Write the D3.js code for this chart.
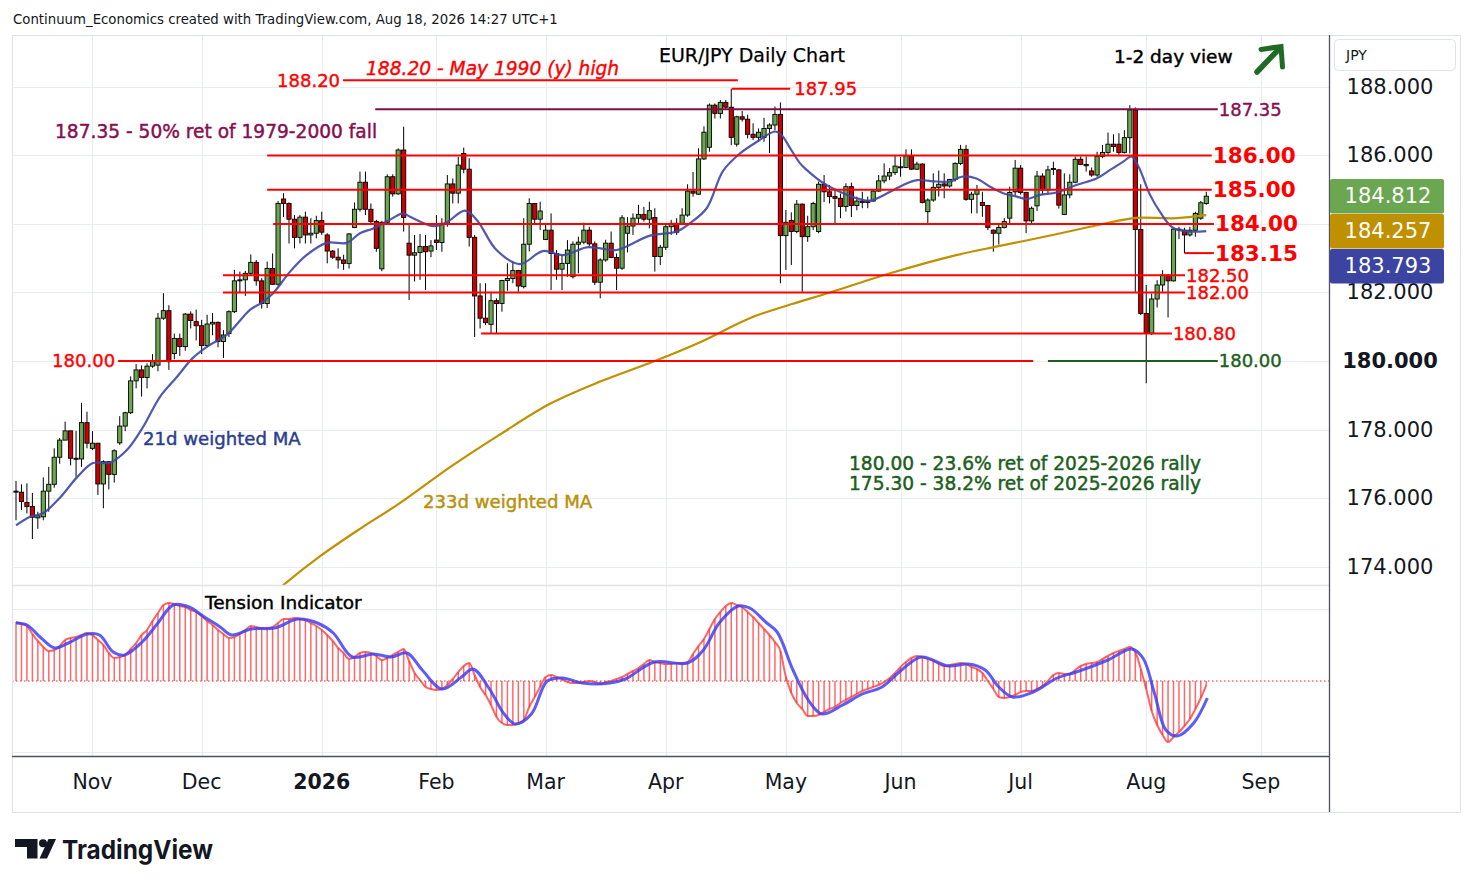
<!DOCTYPE html>
<html>
<head>
<meta charset="utf-8">
<script src="https://cdn.jsdelivr.net/npm/d3@7"></script>
<style>
  body { margin: 0; background: #fff; }
  text { font-family: "DejaVu Sans", sans-serif; }
</style>
</head>
<body>
<svg id="chart" width="1474" height="887"></svg>
<script>
// daily EUR/JPY candles, [open, high, low, close], from Oct 14 2025 to Aug 18 2026
const candles = [
  [176.18,176.5,175.35,176.2],[176.17,176.4,175.65,175.9],[175.87,176.43,175.55,175.75],[175.75,176.15,174.8,175.44],[175.42,175.6,175.1,175.48],
  [175.45,176.6,175.35,176.2],[176.2,176.91,175.6,176.4],[176.4,177.45,176.3,177.19],[177.19,177.75,177.0,177.69],[177.69,178.23,177.69,177.96],
  [177.96,177.96,176.95,177.16],[177.16,177.96,176.62,177.14],[177.14,178.78,176.91,178.2],[178.2,178.52,177.45,177.6],[177.45,177.95,177.4,177.6],
  [177.6,177.6,176.09,176.41],[176.41,177.1,175.7,177.06],[177.06,177.06,176.25,176.69],[176.69,177.42,176.45,177.38],[177.61,178.39,177.55,178.1],
  [178.1,178.52,177.95,178.49],[178.49,179.55,178.45,179.42],[179.42,179.91,179.2,179.74],[179.74,179.87,178.96,179.52],[179.52,179.93,179.2,179.85],
  [179.85,180.2,179.8,179.98],[179.88,181.4,179.7,181.25],[181.25,181.98,181.2,181.47],[181.47,181.63,179.74,179.98],[180.22,180.8,180.05,180.66],
  [180.66,180.8,180.15,180.42],[180.42,181.4,180.3,181.37],[181.37,181.45,180.95,181.18],[181.15,181.5,180.6,181.03],[181.03,181.2,180.2,180.45],
  [180.45,181.35,180.4,181.08],[181.08,181.4,180.75,181.13],[181.13,181.15,180.4,180.57],[180.57,180.9,180.09,180.76],[180.8,181.48,180.7,181.44],
  [181.44,182.66,181.4,182.34],[182.34,182.61,182.0,182.37],[182.37,182.63,181.9,182.56],[182.56,183.11,182.5,182.88],[182.88,182.95,182.2,182.34],
  [182.34,182.42,181.53,181.68],[181.68,182.9,181.55,182.7],[182.7,183.14,182.22,182.24],[182.24,184.67,182.2,184.6],[184.73,184.9,184.2,184.6],
  [184.6,184.63,183.43,184.14],[184.14,184.26,183.29,183.61],[183.61,184.26,183.43,184.2],[184.2,184.36,183.43,183.68],[183.68,184.17,183.43,183.73],
  [183.73,184.24,183.58,184.1],[184.1,184.36,183.68,183.76],[183.68,183.73,182.85,183.21],[183.21,183.24,182.98,183.03],[183.03,183.29,182.7,182.95],
  [182.95,183.1,182.66,182.85],[182.85,183.73,182.7,183.71],[183.9,184.63,183.88,184.43],[184.43,185.53,184.36,185.22],[185.22,185.53,184.26,184.43],
  [184.43,184.6,184.02,184.07],[184.07,184.12,183.19,183.29],[182.69,184.09,182.62,184.05],[184.05,185.45,184.02,185.38],[185.38,185.45,184.8,184.88],
  [184.88,186.21,184.85,186.16],[186.16,186.84,183.78,184.19],[183.44,183.97,181.78,183.09],[183.09,183.68,182.32,183.16],[183.17,183.71,182.37,183.34],
  [183.34,183.68,182.07,183.19],[183.21,183.53,183.03,183.36],[183.53,184.26,183.24,183.46],[183.46,184.17,183.19,184.02],[184.02,185.43,183.92,185.17],
  [185.17,185.33,184.6,184.9],[184.9,185.96,184.6,185.72],[186.06,186.23,185.48,185.6],[185.6,185.92,183.34,183.61],[183.61,183.68,180.7,181.9],
  [181.9,182.27,180.95,181.25],[181.25,182.27,181.05,181.12],[181.07,182.02,180.81,181.76],[181.76,181.83,180.81,181.68],[181.68,182.37,181.44,182.35],
  [182.35,182.85,182.05,182.41],[182.41,182.9,182.27,182.64],[182.64,182.66,182.02,182.19],[182.17,184.17,182.12,183.41],[183.41,184.75,183.2,184.6],
  [184.6,184.6,183.98,184.14],[184.14,184.65,183.82,184.38],[183.55,184.02,183.53,183.82],[183.82,184.31,182.07,183.14],[183.14,183.24,182.37,182.68],
  [182.68,183.1,182.07,182.85],[182.85,183.53,182.46,183.24],[182.46,183.49,182.41,183.41],[183.41,183.63,182.56,183.47],[183.47,184.04,183.41,183.82],
  [183.82,183.92,183.34,183.42],[183.42,183.49,182.22,182.3],[182.3,183.0,181.83,182.95],[182.95,183.54,182.9,183.44],[183.44,183.78,183.0,183.02],
  [183.02,183.14,182.07,182.71],[182.71,184.26,182.66,184.18],[183.73,184.2,183.17,183.94],[183.94,184.31,183.68,184.17],[184.17,184.56,184.02,184.28],
  [184.28,184.5,184.07,184.14],[184.14,184.65,183.87,184.39],[184.19,184.46,182.61,183.05],[183.05,183.39,182.8,183.32],[183.32,184.02,183.24,183.92],
  [183.92,184.12,183.68,184.02],[184.02,184.17,183.68,183.76],[184.02,184.46,183.97,184.26],[184.26,185.16,184.21,184.96],[184.96,185.52,184.8,184.9],
  [184.87,186.21,184.85,185.9],[185.9,186.85,185.87,186.68],[186.24,187.52,186.11,187.47],[187.47,187.52,187.08,187.23],[187.23,187.62,187.08,187.55],
  [187.55,187.62,187.36,187.41],[187.41,187.95,186.3,186.53],[186.33,187.16,186.26,187.13],[187.13,187.3,186.99,187.06],[187.06,187.19,186.5,186.62],
  [186.62,186.94,186.45,186.53],[186.53,186.79,186.4,186.68],[186.53,187.1,186.4,186.79],[186.79,186.94,186.07,186.89],[186.89,187.43,186.74,187.2],
  [187.2,187.55,182.27,183.66],[183.66,184.41,182.66,184.05],[184.1,184.34,182.8,183.78],[183.78,184.7,183.73,184.58],[184.58,184.6,182.02,183.63],
  [183.63,184.24,183.48,183.92],[183.92,184.65,183.82,184.6],[183.78,185.24,183.73,185.16],[185.16,185.43,184.64,184.94],[184.94,185.14,184.6,184.8],
  [184.8,184.99,184.0,184.75],[184.75,184.89,184.17,184.51],[184.51,185.19,184.36,185.09],[185.09,185.21,184.2,184.54],[184.54,184.8,184.4,184.67],
  [184.67,184.94,184.46,184.63],[184.67,184.8,184.46,184.63],[184.67,184.99,184.65,184.96],[184.96,185.43,184.94,185.26],[185.26,185.77,185.19,185.4],
  [185.4,185.63,185.28,185.5],[185.5,185.99,185.43,185.69],[185.65,185.96,185.38,185.67],[185.65,186.18,185.63,185.99],[185.99,186.18,185.58,185.6],
  [185.6,185.82,185.58,185.75],[185.75,185.77,184.6,184.63],[184.36,184.75,184.0,184.7],[184.7,185.48,184.65,185.07],[185.07,185.56,184.8,185.16],
  [185.17,185.48,184.75,185.11],[185.11,185.32,185.06,185.3],[185.3,185.8,185.24,185.77],[185.77,186.31,185.72,186.18],[186.18,186.31,184.68,184.72],
  [184.72,184.94,184.31,184.87],[184.87,185.14,184.31,184.99],[184.63,184.94,184.21,184.54],[184.54,184.56,183.82,183.9],[183.82,183.84,183.19,183.73],
  [183.73,184.02,183.4,183.9],[183.9,184.17,183.87,184.07],[184.17,185.09,184.02,184.92],[184.94,185.87,184.84,185.63],[185.63,185.72,184.86,184.92],
  [184.92,184.94,183.73,184.09],[184.09,184.51,183.97,184.46],[184.53,185.55,184.38,185.4],[185.4,185.48,184.85,184.99],[184.99,185.7,184.89,185.58],
  [185.6,185.82,185.43,185.62],[185.58,185.6,184.45,184.55],[184.28,185.48,184.26,184.85],[184.85,185.45,184.75,185.22],[185.22,185.97,185.19,185.89],
  [185.89,185.97,185.72,185.74],[185.74,185.97,185.53,185.7],[185.55,185.65,185.38,185.43],[185.43,186.11,185.38,185.97],[185.97,186.31,185.92,186.09],
  [186.09,186.67,186.0,186.33],[186.33,186.62,186.11,186.26],[186.33,186.65,186.02,186.09],[186.09,186.74,186.06,186.52],[186.52,187.47,186.06,187.33],
  [187.33,187.4,182.02,183.84],[183.84,185.16,181.34,181.39],[181.39,182.22,179.35,180.81],[180.81,181.97,180.76,181.81],[181.81,182.36,181.56,182.22],
  [182.22,182.65,182.02,182.51],[182.51,182.53,181.27,182.34],[182.34,183.87,182.32,183.85],[183.85,183.92,183.56,183.82],[183.82,183.89,183.14,183.68],
  [183.68,183.92,183.63,183.82],[183.82,184.36,183.63,184.31],[184.17,184.67,184.12,184.62],[184.6,184.94,184.56,184.812]
];

// 21d weighted MA, [bar index, value]
const ma21 = [
  [0,175.2],[2.6,175.45],[5,175.56],[8,176.0],[11.2,176.61],[14.1,177.02],[17.2,177.03],[20.3,177.4],[23.3,178.08],
  [26.4,178.96],[29.5,179.54],[32.4,180.09],[35.5,180.47],[38.6,180.76],[42.9,181.5],[45,181.7],[47.1,181.98],
  [50.2,182.61],[53.2,183.09],[56.9,183.45],[60.6,183.45],[63,183.73],[65.4,183.87],[67.9,184.07],[70.9,184.31],
  [72.2,184.21],[76.4,183.94],[78.8,184.04],[82.2,184.39],[84.4,184.12],[88,183.24],[92.3,182.83],[96.5,183.21],
  [100.2,183.09],[104.5,183.32],[107,183.29],[110,183.24],[116.1,183.66],[121,183.78],[123.4,184.02],[126.5,184.46],
  [129.5,185.55],[132.6,186.06],[135.7,186.4],[139,186.7],[140.2,186.6],[141.8,186.21],[143.6,185.77],[144.8,185.58],
  [147.9,185.19],[150.9,184.94],[154,184.75],[156.4,184.68],[160.1,184.94],[162.5,185.14],[165,185.28],[168.6,185.24],
  [171.1,185.24],[173.2,185.38],[175.9,185.33],[178.4,185.09],[180.8,184.9],[183.3,184.8],[185.1,184.73],[187.5,184.85],
  [190.6,184.92],[194.2,185.14],[197.9,185.33],[200.4,185.58],[202.8,185.82],[204.3,185.97],[205.6,185.67],[207.7,184.85],
  [209.5,184.36],[211.9,183.89],[215,183.78],[218,183.793]
];

// 233d weighted MA, [bar index, value]
const ma233 = [
  [45,172.9],[48.9,173.45],[55.7,174.3],[63,175.1],[70.3,175.85],[79.5,176.9],[88.6,177.85],[97.8,178.75],[107,179.4],
  [117,180.0],[125.3,180.55],[134.4,181.25],[141.8,181.65],[149.1,182.0],[160.1,182.56],[172.2,183.09],[180.2,183.36],
  [190.5,183.7],[196.7,183.92],[202.7,184.12],[205.3,184.18],[212.6,184.17],[218,184.257]
];

// Tension Indicator, one value per bar (red) and its signal line (blue)
const tensionRed = [
  59,57,55,47,40,34,30,31,35,41,
  43,44,46,48,46,41,36,28,23,24,
  26,32,38,46,51,60,68,76,78,77,
  75,74,71,69,65,60,56,51,47,43,
  44,47,51,55,54,53,53,54,58,62,
  62,63,62,61,58,55,51,46,40,33,
  28,22,24,28,29,28,25,21,23,26,
  29,32,20,8,1,-6,-8,-9,-8,-4,
  2,9,15,18,6,-6,-14,-24,-36,-42,
  -44,-44,-42,-39,-26,-16,-6,4,6,4,
  2,-1,-2,-2,-1,0,-1,-3,-1,0,
  2,4,7,10,13,17,21,19,18,17,
  17,18,18,19,27,35,42,52,62,69,
  75,78,76,74,69,64,58,52,46,39,
  30,4,-12,-22,-28,-35,-35,-34,-31,-28,
  -26,-22,-19,-16,-13,-10,-8,-6,-4,-1,
  3,8,14,19,23,25,24,22,20,17,
  15,16,17,18,17,14,12,8,0,-8,
  -16,-17,-16,-14,-11,-10,-10,-8,-5,0,
  6,8,7,7,11,15,17,18,19,22,
  25,28,30,32,34,29,12,-8,-30,-44,
  -54,-61,-56,-51,-45,-38,-28,-17,-4
];
const tensionBlue = [
  [0,58],[2,56],[4.6,43],[7.1,33],[9.6,38],[13.1,47],[15.3,46],[17.8,29],[19.9,26],[23.1,39],[26,58],[28.8,76],
  [31.7,74],[34.5,64],[37.4,54],[39.5,46],[43.1,52],[47.4,53],[51.6,62],[55.2,58],[58.1,48],[61.6,24],[65.5,27],
  [68.7,24],[71.6,28],[74.4,11],[78,-8],[81.6,4],[83.7,12],[86.6,-7],[89.4,-33],[91.5,-43],[94.4,-33],[97.3,0],
  [100.1,3],[103.7,-2],[108.8,-2],[111.6,2],[116.9,19],[123,18],[125.9,31],[128.8,58],[132.3,75],[134.4,73],
  [137.3,59],[139.4,49],[142.3,11],[145.1,-19],[147.6,-33],[151.4,-24],[155,-13],[158.6,-6],[162.2,11],[165.8,24],
  [170.8,15],[174.4,17],[177.5,11],[180,-6],[182.5,-16],[186.3,-11],[190.7,3],[194.2,9],[200,21],[204.3,32],
  [206.4,23],[208.5,-12],[210.6,-49],[212.7,-55],[215.7,-42],[218.2,-17]
];

// horizontal levels drawn on the chart: price, first and last bar they span
const levels = [
  { price: 188.20, from: 59.9, to: 132.2, kind: "red", label: "188.20", side: "left" },
  { price: 187.95, from: 131.1, to: 141.8, kind: "red", label: "187.95", side: "right" },
  { price: 187.35, from: 65.8, to: 220.1, kind: "purple", label: "187.35", side: "right" },
  { price: 186.00, from: 46, to: 219, kind: "big", label: "186.00", side: "right" },
  { price: 185.00, from: 46, to: 219, kind: "big", label: "185.00", side: "right" },
  { price: 184.00, from: 47.1, to: 219.4, kind: "big", label: "184.00", side: "right" },
  { price: 183.15, from: 214.1, to: 219.4, kind: "big", label: "183.15", side: "right" },
  { price: 182.50, from: 37.9, to: 214.1, kind: "red", label: "182.50", side: "right" },
  { price: 182.00, from: 37.9, to: 214.1, kind: "red", label: "182.00", side: "right" },
  { price: 180.80, from: 85.2, to: 211.7, kind: "red", label: "180.80", side: "right" },
  { price: 180.00, from: 18.7, to: 186.3, kind: "red", label: "180.00", side: "left" },
  { price: 180.00, from: 189, to: 220.1, kind: "green", label: "180.00", side: "right" }
];

const priceTicks = [174, 176, 178, 180, 182, 184, 186, 188];
const monthTicks = [
  ["2025-11-03", "Nov"], ["2025-12-01", "Dec"], ["2026-01-02", "2026"], ["2026-02-02", "Feb"],
  ["2026-03-02", "Mar"], ["2026-04-01", "Apr"], ["2026-05-01", "May"], ["2026-06-01", "Jun"],
  ["2026-07-01", "Jul"], ["2026-08-03", "Aug"], ["2026-09-01", "Sep"]
];
const holidays = ["2025-12-25", "2026-01-01"];
const tensionGrid = [72, -71];

// ---------- layout ----------
const svg = d3.select("#chart");
const L = 12, R = 1329, TOP = 35, MID = 585, TB = 757, BOT = 812, RIGHT_END = 1460;
const COL = {
  red: "#ff0000", purple: "#880e4f", green: "#1b5e20", grid: "#e9edf2",
  up: "#6aa84f", down: "#cc0000", ma21: "#3d48a3", ma233: "#c09000"
};

const fmtDay = d3.utcFormat("%Y-%m-%d");
const days = d3.utcDay.range(new Date(Date.UTC(2025, 9, 14)), new Date(Date.UTC(2026, 8, 3)))
  .filter(d => d.getUTCDay() % 6 !== 0 && !holidays.includes(fmtDay(d)))
  .map(fmtDay);

const x = d3.scaleLinear().domain([0, candles.length - 1]).range([16, 16 + 5.46 * (candles.length - 1)]);
const y = d3.scaleLinear().domain([173.46, 189.518]).range([MID, TOP]);
const ty = d3.scaleLinear().domain([-76, 96]).range([TB, MID]);

svg.append("rect").attr("width", 1474).attr("height", 887).attr("fill", "#fff");

svg.append("defs").call(defs => {
  defs.append("clipPath").attr("id", "clipPrice").append("rect")
    .attr("x", L).attr("y", TOP).attr("width", R - L).attr("height", MID - TOP);
  defs.append("clipPath").attr("id", "clipTension").append("rect")
    .attr("x", L).attr("y", MID).attr("width", R - L).attr("height", TB - MID);
});

// Grid
const grid = svg.append("g").attr("stroke", COL.grid).attr("stroke-width", 1);
monthTicks.forEach(([d]) => {
  const xi = Math.round(x(days.indexOf(d))) + 0.5;
  grid.append("line").attr("x1", xi).attr("x2", xi).attr("y1", TOP).attr("y2", TB);
});
priceTicks.forEach(p => {
  const yy = Math.round(y(p)) + 0.5;
  grid.append("line").attr("x1", L).attr("x2", R).attr("y1", yy).attr("y2", yy);
});
tensionGrid.forEach(v => {
  const yy = Math.round(ty(v)) + 0.5;
  grid.append("line").attr("x1", L).attr("x2", R).attr("y1", yy).attr("y2", yy);
});

// Price pane
const pane = svg.append("g").attr("clip-path", "url(#clipPrice)");

const cg = pane.append("g");
candles.forEach(([o, h, l, c], i) => {
  const xi = x(i);
  cg.append("line").attr("x1", xi).attr("x2", xi).attr("y1", y(h)).attr("y2", y(l))
    .attr("stroke", "#000").attr("stroke-width", 1);
  const top = y(Math.max(o, c)), bot = y(Math.min(o, c));
  cg.append("rect").attr("x", xi - 2.1).attr("y", top).attr("width", 4.2).attr("height", Math.max(1, bot - top))
    .attr("fill", c >= o ? COL.up : COL.down).attr("stroke", "#000").attr("stroke-width", 0.9);
});

const maLine = d3.line().x(d => x(d[0])).y(d => y(d[1])).curve(d3.curveCatmullRom.alpha(0.5));
pane.append("path").attr("d", maLine(ma233)).attr("fill", "none").attr("stroke", COL.ma233).attr("stroke-width", 2.2);
pane.append("path").attr("d", maLine(ma21)).attr("fill", "none").attr("stroke", COL.ma21).attr("stroke-width", 2.2).attr("stroke-opacity", 0.9);

// Levels and their labels
const levelColor = k => k === "purple" ? COL.purple : k === "green" ? COL.green : COL.red;
const lg = svg.append("g");
levels.forEach(lv => {
  const yy = y(lv.price);
  lg.append("line").attr("x1", x(lv.from)).attr("x2", x(lv.to)).attr("y1", yy).attr("y2", yy)
    .attr("stroke", lv.kind === "purple" ? "#7b1048" : levelColor(lv.kind)).attr("stroke-width", 2);
  const big = lv.kind === "big";
  const col = levelColor(lv.kind);
  const t = lg.append("text").attr("y", yy).attr("dominant-baseline", "central")
    .attr("fill", col).attr("stroke", big ? "none" : col).attr("stroke-width", 0.4)
    .style("font-size", big ? "21.5px" : "18px").style("font-weight", big ? "bold" : "normal")
    .text(lv.label);
  if (lv.side === "left") t.attr("x", x(lv.from) - 3).attr("text-anchor", "end");
  else t.attr("x", x(lv.to) + (lv.to < 150 ? 4 : 1)).attr("text-anchor", "start");
});

// Annotations
const note = (tx, ty_, str, fill, size, weight, extra) => {
  const t = svg.append("text").attr("x", tx).attr("y", ty_).attr("dominant-baseline", "central")
    .attr("fill", fill).style("font-size", size + "px").text(str);
  if (weight) t.attr("stroke", fill).attr("stroke-width", weight);
  if (extra) extra(t);
  return t;
};
note(13, 19, "Continuum_Economics created with TradingView.com, Aug 18, 2026 14:27 UTC+1", "#131722", 13.3, 0);
note(752, 55, "EUR/JPY Daily Chart", "#000", 19, 0.25, t => t.attr("text-anchor", "middle"));
note(1114, 56, "1-2 day view", "#000", 18.5, 0.45);
note(366, 68, "188.20 - May 1990 (y) high", COL.red, 18.6, 0.4, t => t.style("font-style", "italic"));
note(55, 131, "187.35 - 50% ret of 1979-2000 fall", COL.purple, 18.6, 0.45);
note(143, 438, "21d weighted MA", "#2c3e8f", 18.1, 0.45);
note(423, 501, "233d weighted MA", "#b8900a", 18.1, 0.45);
note(849, 463, "180.00 - 23.6% ret of 2025-2026 rally", COL.green, 18.6, 0.45);
note(849, 483, "175.30 - 38.2% ret of 2025-2026 rally", COL.green, 18.6, 0.45);

// view arrow
svg.append("path").attr("d", "M1257,72 L1278,50").attr("stroke", "#1f6b26").attr("stroke-width", 5.5)
  .attr("stroke-linecap", "round").attr("fill", "none");
svg.append("path").attr("d", "M1261,49.5 L1281,46.5 L1282.5,67").attr("stroke", "#1f6b26").attr("stroke-width", 5)
  .attr("stroke-linecap", "round").attr("stroke-linejoin", "miter").attr("fill", "none");

// Tension pane
const tp = svg.append("g").attr("clip-path", "url(#clipTension)");
tp.append("line").attr("x1", L).attr("x2", R).attr("y1", ty(0)).attr("y2", ty(0))
  .attr("stroke", "#ff2020").attr("stroke-width", 1.2).attr("stroke-dasharray", "1.5,2.5");
tp.append("g").selectAll("line").data(tensionRed).join("line")
  .attr("x1", (d, i) => x(i)).attr("x2", (d, i) => x(i))
  .attr("y1", ty(0)).attr("y2", d => ty(d))
  .attr("stroke", "#ff4d4d").attr("stroke-width", 1.5).attr("stroke-opacity", 0.85);
tp.append("path")
  .attr("d", d3.line().x((d, i) => x(i)).y(d => ty(d)).curve(d3.curveMonotoneX)(tensionRed))
  .attr("fill", "none").attr("stroke", "#ff3030").attr("stroke-width", 2).attr("stroke-opacity", 0.75);
tp.append("path")
  .attr("d", d3.line().x(d => x(d[0])).y(d => ty(d[1])).curve(d3.curveCatmullRom.alpha(0.5))(tensionBlue))
  .attr("fill", "none").attr("stroke", "#3f3ff5").attr("stroke-width", 3).attr("stroke-opacity", 0.85);
note(205, 602, "Tension Indicator", "#000", 18.5, 0.45);

// Frames
svg.append("rect").attr("x", L + 0.5).attr("y", TOP + 0.5).attr("width", RIGHT_END - L).attr("height", BOT - TOP)
  .attr("fill", "none").attr("stroke", "#e0e3eb");
svg.append("line").attr("x1", L).attr("x2", R).attr("y1", MID + 0.5).attr("y2", MID + 0.5).attr("stroke", "#e0e3eb").attr("stroke-width", 1.5);
svg.append("line").attr("x1", L).attr("x2", R).attr("y1", TB - 0.5).attr("y2", TB - 0.5).attr("stroke", "#50535e").attr("stroke-width", 1.3);
svg.append("line").attr("x1", R + 0.5).attr("x2", R + 0.5).attr("y1", TOP).attr("y2", BOT).attr("stroke", "#50535e").attr("stroke-width", 1.3);

// Time axis
svg.append("g").selectAll("text").data(monthTicks).join("text")
  .attr("x", d => x(days.indexOf(d[0]))).attr("y", 782)
  .attr("text-anchor", "middle").attr("dominant-baseline", "central")
  .attr("fill", "#131722").style("font-size", "20.5px")
  .style("font-weight", d => d[1] === "2026" ? "bold" : "normal")
  .text(d => d[1]);

// last-value labels, stacked so they do not overlap
const fmt3 = d3.format(".3f");
const lastBoxes = [
  { v: candles[candles.length - 1][3], color: "#6ba650" },
  { v: ma233[ma233.length - 1][1], color: "#bf9000" },
  { v: ma21[ma21.length - 1][1], color: "#3b44a0" }
].map(b => ({ ...b, cy: y(b.v) })).sort((a, b) => a.cy - b.cy);
const BH = 34.5;
lastBoxes.forEach((b, k) => { if (k > 0) b.cy = Math.max(b.cy, lastBoxes[k - 1].cy + BH + 0.5); });

// Price axis (labels fully under a value box are hidden, as on the platform)
const hidden = p => lastBoxes.some(b => Math.abs(y(p) - b.cy) < BH / 2 - 4);
svg.append("g").selectAll("text").data(priceTicks.filter(p => !hidden(p))).join("text")
  .attr("x", 1390).attr("y", d => y(d)).attr("text-anchor", "middle").attr("dominant-baseline", "central")
  .attr("fill", "#131722").style("font-size", "21px")
  .style("font-weight", d => d === 180 ? "bold" : "normal")
  .text(d => fmt3(d));

const jpy = svg.append("g");
jpy.append("rect").attr("x", 1334.5).attr("y", 39.5).attr("width", 121).attr("height", 31).attr("rx", 4)
  .attr("fill", "#fff").attr("stroke", "#e0e3eb");
jpy.append("text").attr("x", 1346).attr("y", 55).attr("dominant-baseline", "central")
  .attr("fill", "#131722").style("font-size", "14px").text("JPY");

const bg = svg.append("g");
lastBoxes.forEach(b => {
  bg.append("rect").attr("x", 1330).attr("y", b.cy - BH / 2).attr("width", 114).attr("height", BH)
    .attr("rx", 2).attr("fill", b.color);
  bg.append("text").attr("x", 1388).attr("y", b.cy).attr("text-anchor", "middle").attr("dominant-baseline", "central")
    .attr("fill", "#fff").style("font-size", "21px").text(fmt3(b.v));
});

// TradingView logo
const logo = svg.append("g").attr("fill", "#131722");
logo.append("path").attr("d", "M15,839 H37.5 V858.5 H27 V847 H15 Z");
logo.append("circle").attr("cx", 43).attr("cy", 843.3).attr("r", 4);
logo.append("path").attr("d", "M48.5,839 H56 L47,858.5 H39.5 Z");
logo.append("text").attr("x", 62).attr("y", 858.5).attr("textLength", 151).attr("lengthAdjust", "spacingAndGlyphs")
  .style("font-family", "Inter, 'Open Sans', sans-serif").style("font-weight", "700").style("font-size", "26px")
  .text("TradingView");
</script>
</body>
</html>
